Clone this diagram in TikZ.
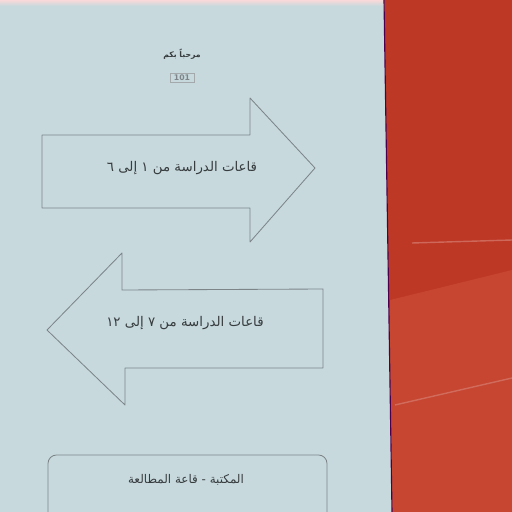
\documentclass[tikz,border=0pt]{standalone}
\usepackage{fontspec}
\newfontfamily\arabicfont[Script=Arabic]{DejaVu Sans}
\TeXXeTstate=1
\usetikzlibrary{calc,positioning}
\definecolor{paperblue}{RGB}{199,217,221}
\definecolor{wallred}{RGB}{190,56,38}
\definecolor{wallredlight}{RGB}{198,70,50}
\definecolor{pencilgray}{RGB}{125,133,137}
\definecolor{inkgray}{RGB}{55,60,62}

\begin{document}
\begin{tikzpicture}[x=0.025cm,y=-0.025cm]
  \tikzset{
    pen/.style={draw=pencilgray,line width=0.6pt,line join=round},
    sign/.style={font=\arabicfont\fontsize{9.5}{10}\selectfont,text=inkgray,inner sep=1pt},
    title/.style={font=\arabicfont\bfseries\fontsize{5.5}{6}\selectfont,text=inkgray,inner sep=1pt},
  }
  \useasboundingbox (0,0) rectangle (512,512);
  % wall and paper
  \fill[wallred] (0,0) rectangle (512,512);
  \fill[wallredlight] (390,300) -- (512,270) -- (512,512) -- (390,512) -- cycle;
  \draw[white!70!wallred,line width=1pt,opacity=0.35] (412,243) -- (512,240);
  \draw[white!70!wallred,line width=1pt,opacity=0.3] (395,405) -- (512,378);
  \fill[paperblue] (0,0) -- (384,0) -- (392,512) -- (0,512) -- cycle;
  \fill[top color=red!15!white!90!paperblue,bottom color=paperblue] (0,0) rectangle (384,6);
  \draw[violet!60!black,line width=0.8pt] (384,0) -- (392,512);

  % title
  \node[title] (head) at (182,54) {\beginR مرحباً بكم\endR};
  \node[title,draw=pencilgray!70,line width=0.4pt,text=pencilgray,minimum width=0.6cm] (room) at (182,78) {\beginL 101\endL};

  % arrow to the right
  \draw[pen] (42,135) -- (250,135) -- (250,98) -- (315,168) -- (250,242) -- (250,208) -- (42,208) -- cycle;
  \node[sign] (rtext) at (182,168) {\beginR قاعات الدراسة من ١ إلى ٦\endR};

  % arrow to the left
  \draw[pen] (323,289) -- (122,290) -- (122,253) -- (47,330) -- (125,405) -- (125,368) -- (323,368) -- cycle;
  \node[sign] (ltext) at (185,323) {\beginR قاعات الدراسة من ٧ إلى ١٢\endR};

  % bottom box
  \draw[pen,rounded corners=6] (48,530) -- (48,455) -- (327,455) -- (327,530);
  \node[sign,font=\arabicfont\fontsize{8.5}{9}\selectfont] (btext) at (186,480) {\beginR المكتبة - قاعة المطالعة\endR};
\end{tikzpicture}
\end{document}
